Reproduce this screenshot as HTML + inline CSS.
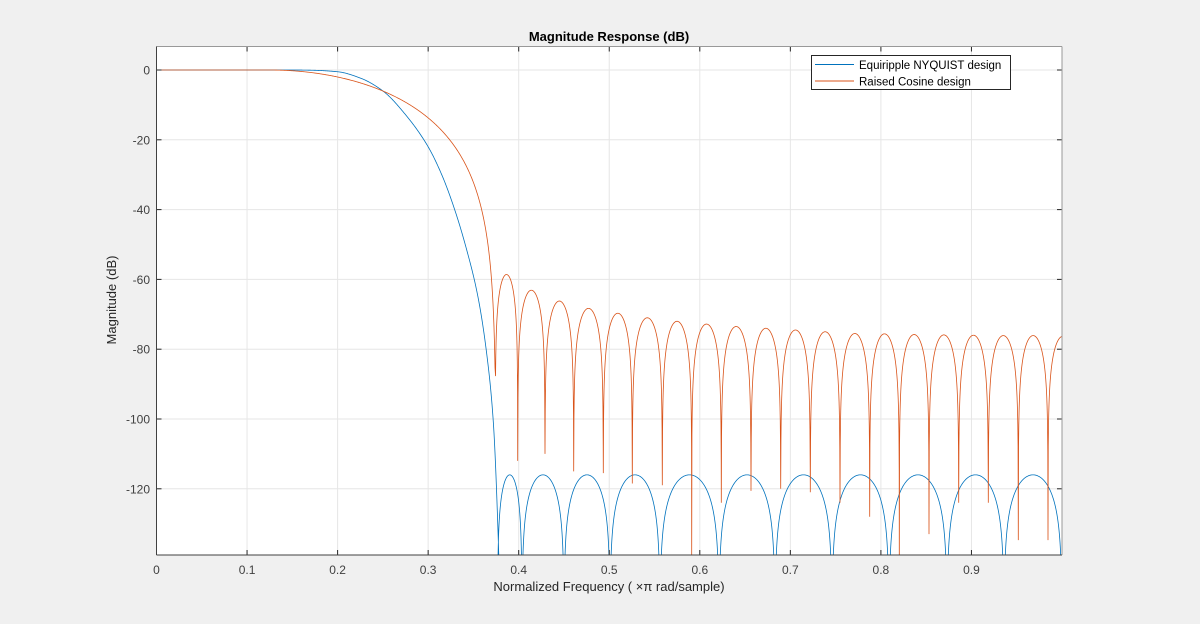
<!DOCTYPE html>
<html><head><meta charset="utf-8"><style>
html,body{margin:0;padding:0;background:#f0f0f0;width:1200px;height:624px;overflow:hidden;}
svg{display:block;font-family:"Liberation Sans",Arial,sans-serif;}
</style></head><body>
<svg id="s" width="1200" height="624" xmlns="http://www.w3.org/2000/svg">
<rect width="1200" height="624" fill="#f0f0f0"/>
<rect x="156.5" y="46.5" width="905.5" height="508.5" fill="#fff"/>
<g id="grid" stroke="#e6e6e6" stroke-width="1"></g>
<defs><clipPath id="c"><rect x="156.5" y="46.5" width="905.5" height="508.5"/></clipPath></defs>
<g clip-path="url(#c)">
<path id="blue" fill="none" stroke="#0072BD" stroke-width="0.8"/>
<path id="orange" fill="none" stroke="#D95319" stroke-width="0.8"/>
</g>
<g id="ticks" stroke="#262626" stroke-width="1"></g>
<line x1="156.5" y1="46.5" x2="1062" y2="46.5" stroke="#999" />
<line x1="1062" y1="46.5" x2="1062" y2="555" stroke="#999" />
<line x1="156.5" y1="46.5" x2="156.5" y2="555" stroke="#404040" />
<line x1="156.5" y1="555" x2="1062" y2="555" stroke="#404040" />
<g id="labels" font-size="12" fill="#404040"></g>
<text x="609" y="41" font-size="13" font-weight="bold" text-anchor="middle" fill="#000">Magnitude Response (dB)</text>
<text x="609" y="591" font-size="13" text-anchor="middle" fill="#262626">Normalized  Frequency  ( ×π  rad/sample)</text>
<text transform="translate(116,300) rotate(-90)" font-size="13" text-anchor="middle" fill="#262626">Magnitude (dB)</text>
<rect x="811.5" y="55.5" width="199" height="34" fill="#fff" stroke="#262626" stroke-width="1"/>
<line x1="815" y1="64.5" x2="854" y2="64.5" stroke="#0072BD"/>
<line x1="815" y1="81" x2="854" y2="81" stroke="#D95319"/>
<text x="859" y="69" font-size="11.5" fill="#000">Equiripple NYQUIST design</text>
<text x="859" y="85.5" font-size="11.5" fill="#000">Raised Cosine design</text>
</svg>
<script>
var X0=156.5,PX=905.5,Y0=70,DY=3.49;
function fx(f){return X0+f*PX;}
function yd(d){return Y0-d*DY;}
var g=document.getElementById('grid'),t=document.getElementById('ticks'),l=document.getElementById('labels');
var ns='http://www.w3.org/2000/svg';
function el(p,n,a,txt){var e=document.createElementNS(ns,n);for(var k in a)e.setAttribute(k,a[k]);if(txt!=null)e.textContent=txt;p.appendChild(e);}
for(var i=0;i<=9;i++){var x=fx(i/10);
 if(i>0)el(g,'line',{x1:x,y1:46.5,x2:x,y2:555});
 el(t,'line',{x1:x,y1:555,x2:x,y2:550});el(t,'line',{x1:x,y1:46.5,x2:x,y2:51.5});
 el(l,'text',{x:x,y:574,'text-anchor':'middle'},i==0?'0':'0.'+i);}
for(var d=0;d>=-120;d-=20){var y=yd(d);
 el(g,'line',{x1:156.5,y1:y,x2:1062,y2:y});
 el(t,'line',{x1:156.5,y1:y,x2:161.5,y2:y});el(t,'line',{x1:1057,y1:y,x2:1062,y2:y});
 el(l,'text',{x:150,y:y+4.5,'text-anchor':'end'},String(d));}
// monotone cubic (Fritsch-Carlson)
function mono(pts){var n=pts.length,dl=[],m=[];
 for(var i=0;i<n-1;i++)dl[i]=(pts[i+1][1]-pts[i][1])/(pts[i+1][0]-pts[i][0]);
 m[0]=dl[0];m[n-1]=dl[n-2];
 for(var i=1;i<n-1;i++){if(dl[i-1]*dl[i]<=0)m[i]=0;else{var h0=pts[i][0]-pts[i-1][0],h1=pts[i+1][0]-pts[i][0];var w1=2*h1+h0,w2=h1+2*h0;m[i]=(w1+w2)/(w1/dl[i-1]+w2/dl[i]);}}
 return function(f){for(var i=0;i<n-1;i++){if(f<=pts[i+1][0]){var h=pts[i+1][0]-pts[i][0],u=(f-pts[i][0])/h;
  var h00=2*u*u*u-3*u*u+1,h10=u*u*u-2*u*u+u,h01=-2*u*u*u+3*u*u,h11=u*u*u-u*u;
  return h00*pts[i][1]+h10*h*m[i]+h01*pts[i+1][1]+h11*h*m[i+1];}}return -200;};}
var bp=[[0,0],[0.15,-0.005],[0.17,-0.06],[0.2,-0.5],[0.225,-2.3],[0.25,-6],[0.275,-12.8],[0.3,-22],[0.315,-30],[0.328,-39],[0.342,-51],[0.355,-65],[0.365,-82],[0.372,-101],[0.378,-139],[0.381,-170]];
var B=mono(bp);
var d1='';
for(var x=156.5;x<=502;x+=0.5){var f=(x-X0)/PX;d1+=(d1?'L':'M')+x.toFixed(2)+','+yd(B(f)).toFixed(2);}
var bn=[497.5,522,564,610,660,719,775,832,889,947,1004,1062];
for(var i=0;i<bn.length-1;i++){var a=bn[i],b=bn[i+1];d1+='M'+a+','+yd(-170);
 for(var x=a+0.25;x<b;x+=0.25){var s=Math.sin(Math.PI*(x-a)/(b-a));d1+='L'+x.toFixed(2)+','+yd(-116+20*Math.log10(Math.max(s,1e-4))).toFixed(2);}
 d1+='L'+b+','+yd(-170);}
document.getElementById('blue').setAttribute('d',d1);
// Orange
var d2='';
for(var x=156.5;x<=495.3;x+=0.5){var f=(x-X0)/PX;var h;if(f<0.125)h=1;else h=0.5*(1+Math.cos(Math.PI*(f-0.125)/0.25));
 var db=20*Math.log10(Math.max(h,1e-6));d2+=(d2?'L':'M')+x.toFixed(2)+','+yd(Math.max(db,-97.6)).toFixed(2);}
var on=[495.3,517.7,545,573.7,603.3,632.3,662.3,691.7,721.3,751,780.7,810.3,840,869.7,899.3,929,958.7,988.3,1018.3,1048,1077.7];
var ond=[-97.6,-112,-110,-115,-115.5,-118.5,-119,-139,-124,-120.6,-120,-121,-124,-128,-145,-133,-124,-124,-134.7,-134.7,-130];
var op=[-58.6,-63.1,-66.2,-68.3,-69.7,-71,-72,-72.8,-73.5,-74,-74.5,-75,-75.5,-75.6,-75.8,-75.9,-76,-76.1,-76.1,-76.3];
for(var i=0;i<on.length-1;i++){var a=on[i],b=on[i+1];
 if(i>0)d2+='L'+a+','+yd(ond[i]).toFixed(2);
 for(var x=a+0.25;x<b;x+=0.25){var s=Math.sin(Math.PI*(x-a)/(b-a));var v=op[i]+20*Math.log10(Math.max(s,1e-5));
  var lim=(x-a<b-x)?ond[i]:ond[i+1];v=Math.max(v,lim);d2+='L'+x.toFixed(2)+','+yd(v).toFixed(2);}
}
document.getElementById('orange').setAttribute('d',d2);
</script>
</body></html>
